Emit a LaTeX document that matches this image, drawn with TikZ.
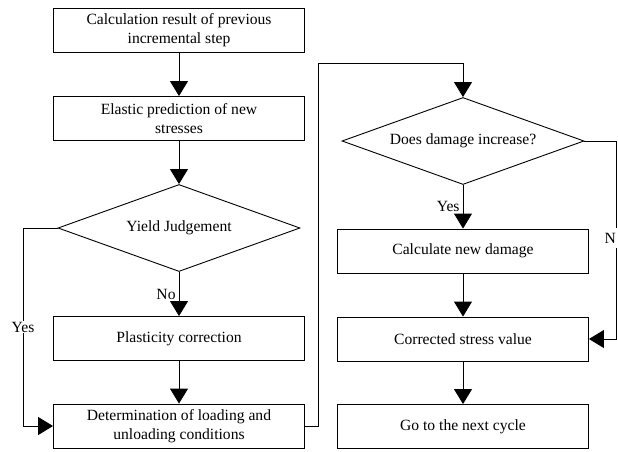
\documentclass[tikz,border=0pt]{standalone}
\usepackage{fontspec}
\setmainfont{Liberation Serif}
\usetikzlibrary{shapes.geometric,arrows.meta}
\begin{document}
\begin{tikzpicture}[x=1pt,y=1pt,
  every node/.style={font=\fontsize{15.6}{19.5}\selectfont},
  box/.style={draw,line width=0.9pt,minimum width=251pt,minimum height=44pt,align=center,inner sep=1pt},
  dec/.style={draw,line width=0.9pt,diamond,minimum width=242pt,minimum height=87pt,inner sep=0pt,aspect=2.7},
  conn/.style={line width=0.9pt,-{Triangle[length=15pt,width=18pt]}},
  lbl/.style={fill=white,inner sep=1pt}]
\useasboundingbox (0,0) rectangle (618,-451);
% left column
\node[box] (b1) at (179,-30) {Calculation result of previous\\incremental step};
\node[box] (b2) at (179,-118.5) {Elastic prediction of new\\stresses};
\node[dec] (d1) at (179,-228) {Yield Judgement};
\node[box] (b3) at (179,-338.5) {Plasticity correction};
\node[box] (b4) at (179,-426) {Determination of loading and\\unloading conditions};
% right column
\node[dec] (d2) at (463,-141) {Does damage increase?};
\node[box] (b5) at (463,-251) {Calculate new damage};
\node[box] (b6) at (463,-339) {Corrected stress value};
\node[box] (b7) at (463,-426.5) {Go to the next cycle};
% helper coordinates
\coordinate (ya) at (23,-228);
\coordinate (yb) at (23,-426);
\coordinate (ra) at (318,-426);
\coordinate (rb) at (318,-63);
\coordinate (rc) at (463,-63);
\coordinate (na) at (616,-141);
\coordinate (nb) at (616,-339);
% connectors
\draw[conn] (b1) -- (b2);
\draw[conn] (b2) -- (d1);
\draw[conn] (d1) -- node[left=2pt,pos=0.5,inner sep=1pt] {No} (b3);
\draw[conn] (b3) -- (b4);
\draw[conn] (d1.west) -- (ya) -- node[lbl,pos=0.5] {Yes} (yb) -- (b4.west);
\draw[conn] (b4.east) -- (ra) -- (rb) -- (rc) -- (d2.north);
\draw[conn] (d2) -- node[left=2pt,pos=0.5,inner sep=1pt] {Yes} (b5);
\draw[conn] (b5) -- (b6);
\draw[conn] (b6) -- (b7);
\draw[conn] (d2.east) -- (na) -- (nb) -- (b6.east);
\node[lbl,anchor=east,inner ysep=5pt] (nl) at (617,-238) {N};
\end{tikzpicture}
\end{document}
